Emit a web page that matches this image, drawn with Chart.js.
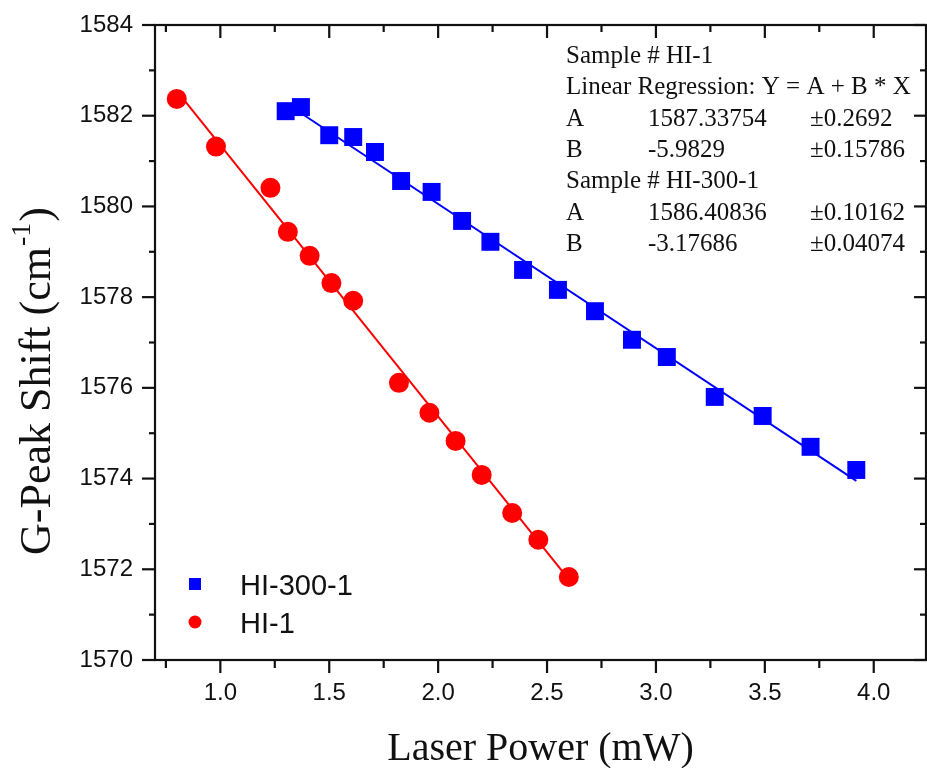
<!DOCTYPE html>
<html>
<head>
<meta charset="utf-8">
<script src="https://cdn.jsdelivr.net/npm/chart.js@4.4.1/dist/chart.umd.min.js"></script>
<style>
  html, body { margin: 0; padding: 0; background: #fff; }
  canvas { display: block; }
</style>
</head>
<body>
<canvas id="chart" width="927" height="768"></canvas>
<script>
// HI-1 (red circles)
const hi1X = [0.80, 0.98, 1.23, 1.31, 1.41, 1.51, 1.61, 1.82, 1.96, 2.08, 2.20, 2.34, 2.46, 2.60];
const hi1Y = [1582.37, 1581.32, 1580.41, 1579.44, 1578.91, 1578.31, 1577.92, 1576.11, 1575.45, 1574.83, 1574.08, 1573.24, 1572.65, 1571.83];

// HI-300-1 (blue squares)
const hi300X = [1.30, 1.37, 1.50, 1.61, 1.71, 1.83, 1.97, 2.11, 2.24, 2.39, 2.55, 2.72, 2.89, 3.05, 3.27, 3.49, 3.71, 3.92];
const hi300Y = [1582.10, 1582.19, 1581.57, 1581.53, 1581.20, 1580.56, 1580.32, 1579.68, 1579.22, 1578.60, 1578.16, 1577.69, 1577.06, 1576.68, 1575.80, 1575.38, 1574.70, 1574.19];

// fitted lines (end points)
const hi1FitX = [0.80, 2.60];
const hi1FitY = [1582.55, 1571.78];
const hi300FitX = [1.30, 3.92];
const hi300FitY = [1582.28, 1573.95];

const xTicks = [1.0, 1.5, 2.0, 2.5, 3.0, 3.5, 4.0];
const yTicks = [1570, 1572, 1574, 1576, 1578, 1580, 1582, 1584];

const fitText = [
  ['Sample # HI-1'],
  ['Linear Regression: Y = A + B * X'],
  ['A', '1587.33754', '\u00b10.2692'],
  ['B', '-5.9829', '\u00b10.15786'],
  ['Sample # HI-300-1'],
  ['A', '1586.40836', '\u00b10.10162'],
  ['B', '-3.17686', '\u00b10.04074']
];

const toXY = (xs, ys) => xs.map((x, i) => ({ x: x, y: ys[i] }));

const sans = 'Liberation Sans, Arial, sans-serif';
const serif = '"Liberation Serif", "Times New Roman", serif';
const ink = '#111';

const framePlugin = {
  id: 'frame',
  afterDatasetsDraw(chart) {
    const ctx = chart.ctx;
    const a = chart.chartArea;
    const xs = chart.scales.x, ys = chart.scales.y;
    ctx.save();
    ctx.strokeStyle = ink;
    ctx.lineWidth = 2.2;
    ctx.strokeRect(a.left, a.top, a.right - a.left, a.bottom - a.top);

    const tick = (x1, y1, x2, y2) => {
      ctx.beginPath(); ctx.moveTo(x1, y1); ctx.lineTo(x2, y2); ctx.stroke();
    };
    // x ticks: bottom outward, top inward
    const xMinor = xTicks.map(v => v - 0.25).concat([xTicks[xTicks.length - 1] + 0.25]);
    xTicks.forEach(v => {
      const px = xs.getPixelForValue(v);
      tick(px, a.bottom, px, a.bottom + 13);
      tick(px, a.top, px, a.top + 13);
    });
    xMinor.forEach(v => {
      if (v < xs.min || v > xs.max) return;
      const px = xs.getPixelForValue(v);
      tick(px, a.bottom, px, a.bottom + 8);
      tick(px, a.top, px, a.top + 7);
    });
    // y ticks: left outward, right inward
    yTicks.forEach(v => {
      const py = ys.getPixelForValue(v);
      tick(a.left - 13, py, a.left, py);
      tick(a.right - 12, py, a.right, py);
    });
    yTicks.slice(1).forEach(v => {
      const py = ys.getPixelForValue(v - 1);
      tick(a.left - 6, py, a.left, py);
      tick(a.right - 6, py, a.right, py);
    });

    ctx.fillStyle = ink;
    // axis titles
    ctx.font = '40px ' + serif;
    ctx.textAlign = 'center';
    ctx.textBaseline = 'alphabetic';
    ctx.fillText('Laser Power (mW)', (a.left + a.right) / 2, 760);

    ctx.save();
    ctx.translate(50, 555);
    ctx.rotate(-Math.PI / 2);
    ctx.textAlign = 'left';
    ctx.font = '44px ' + serif;
    const main = 'G-Peak Shift (cm';
    ctx.fillText(main, 0, 0);
    let w = ctx.measureText(main).width;
    ctx.font = '28px ' + serif;
    ctx.fillText('-1', w + 1, -20);
    w += ctx.measureText('-1').width + 2;
    ctx.font = '44px ' + serif;
    ctx.fillText(')', w, 0);
    ctx.restore();

    // regression text
    ctx.font = '25px ' + serif;
    ctx.textAlign = 'left';
    const cols = [566, 648, 810];
    fitText.forEach((row, i) => {
      const y = 63 + i * 31.3;
      row.forEach((t, j) => ctx.fillText(t, cols[j], y));
    });

    // legend
    const dsets = chart.data.datasets;
    ctx.font = '29px ' + sans;
    ctx.fillStyle = '#0000ff';
    ctx.fillRect(189, 578, 12, 12);
    ctx.fillStyle = '#ff0000';
    ctx.beginPath(); ctx.arc(195, 622, 6.5, 0, Math.PI * 2); ctx.fill();
    ctx.fillStyle = ink;
    ctx.fillText(dsets[1].label, 240, 595);
    ctx.fillText(dsets[0].label, 240, 633);
    ctx.restore();
  }
};

const noPad = s => { s.paddingTop = 0; s.paddingBottom = 0; s.paddingLeft = 0; s.paddingRight = 0; };

new Chart(document.getElementById('chart'), {
  type: 'scatter',
  data: {
    datasets: [
      {
        label: 'HI-1',
        data: toXY(hi1X, hi1Y),
        pointStyle: 'circle',
        pointRadius: 10,
        backgroundColor: '#ff0000',
        borderWidth: 0,
        order: 0
      },
      {
        label: 'HI-300-1',
        data: toXY(hi300X, hi300Y),
        pointStyle: 'rect',
        pointRadius: 12.7,
        backgroundColor: '#0000ff',
        borderWidth: 0,
        order: 0
      },
      {
        label: 'HI-1 fit',
        data: toXY(hi1FitX, hi1FitY),
        showLine: true,
        pointRadius: 0,
        borderColor: '#ff0000',
        borderWidth: 2,
        order: 1
      },
      {
        label: 'HI-300-1 fit',
        data: toXY(hi300FitX, hi300FitY),
        showLine: true,
        pointRadius: 0,
        borderColor: '#0000ff',
        borderWidth: 2,
        order: 1
      }
    ]
  },
  options: {
    responsive: false,
    animation: false,
    devicePixelRatio: 1,
    layout: { autoPadding: false, padding: { top: 25, right: 1, left: 0, bottom: 0 } },
    plugins: {
      legend: { display: false },
      tooltip: { enabled: false }
    },
    scales: {
      x: {
        type: 'linear',
        min: 0.7,
        max: 4.24,
        afterBuildTicks: s => { s.ticks = xTicks.map(v => ({ value: v })); },
        afterFit: s => { s.height = 108; noPad(s); },
        grid: { display: false, drawTicks: false },
        border: { display: false },
        ticks: {
          callback: v => v.toFixed(1),
          font: { family: sans, size: 24 },
          color: ink,
          padding: 19,
          maxRotation: 0,
          autoSkip: false
        }
      },
      y: {
        type: 'linear',
        min: 1570,
        max: 1584,
        afterBuildTicks: s => { s.ticks = yTicks.map(v => ({ value: v })); },
        afterFit: s => { s.width = 155; noPad(s); },
        grid: { display: false, drawTicks: false },
        border: { display: false },
        ticks: {
          callback: v => String(v),
          font: { family: sans, size: 24 },
          color: ink,
          padding: 22,
          autoSkip: false
        }
      }
    }
  },
  plugins: [framePlugin]
});
</script>
</body>
</html>
